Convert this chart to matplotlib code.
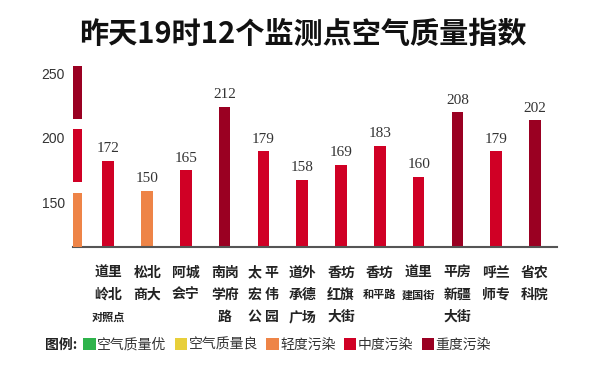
import matplotlib
matplotlib.use('Agg')
from matplotlib import pyplot
from matplotlib.patches import Patch

pyplot.rcParams['font.family'] = ['Noto Sans CJK SC', 'DejaVu Sans']

# 监测点（每个标签按行拆开）
sites = [
    ['道里', '岭北', '对照点'],
    ['松北', '商大'],
    ['阿城', '会宁'],
    ['南岗', '学府', '路'],
    ['太 平', '宏 伟', '公 园'],
    ['道外', '承德', '广场'],
    ['香坊', '红旗', '大街'],
    ['香坊', '和平路'],
    ['道里', '建国街'],
    ['平房', '新疆', '大街'],
    ['呼兰', '师专'],
    ['省农', '科院'],
]
aqi = [172, 150, 165, 212, 179, 158, 169, 183, 160, 208, 179, 202]
level = ['mid', 'light', 'mid', 'heavy', 'mid', 'mid', 'mid', 'mid', 'mid',
         'heavy', 'mid', 'heavy']

# 左侧色阶
scale_levels = ['light', 'mid', 'heavy']
scale_low = [115, 166, 215]
scale_high = [157, 207, 256]
scale_ticks = [150, 200, 250]

colors = {
    'good': '#2EB34B',
    'fair': '#E8CF3A',
    'light': '#EE8447',
    'mid': '#D00025',
    'heavy': '#9A0022',
}
legend_keys = ['good', 'fair', 'light', 'mid', 'heavy']
legend_names = ['空气质量优', '空气质量良', '轻度污染', '中度污染', '重度污染']

fig = pyplot.figure(figsize=(6.0, 3.74), dpi=100)
ax = fig.add_axes([73 / 600, 127.3 / 374, 483.7 / 600, 186.7 / 374])

x = list(range(len(aqi)))
ax.bar(x, aqi, width=0.3, bottom=0, color=[colors[k] for k in level],
       zorder=2)
ax.set_ylim(108.4, 246.6)
ax.set_xlim(-0.91, 11.56)

for i, v in enumerate(aqi):
    ax.annotate(str(v), xy=(i, v), xytext=(0, 4), textcoords='offset points',
                ha='center', va='bottom', fontsize=11, color='#333333',
                family='Liberation Serif')

# 下方站点名称，三个字的行用小字号
for i, lines in enumerate(sites):
    for j, line in enumerate(lines):
        fs = 8 if len(line.replace(' ', '')) == 3 else 10
        ax.annotate(line, xy=(i, 0), xycoords=ax.get_xaxis_transform(),
                    xytext=(0, -18.7 - 16 * j), textcoords='offset points',
                    ha='center', va='center', fontsize=fs,
                    fontweight='bold', color='#222222')

for side in ['top', 'right', 'left']:
    ax.spines[side].set_visible(False)
ax.spines['bottom'].set_color('#555555')
ax.spines['bottom'].set_linewidth(1.5)
ax.set_xticks([])
ax.set_yticks([])
ax.patch.set_alpha(0)

# 色阶刻度
ax2 = ax.twinx()
ax2.set_ylim(115.1, 260.9)
ax2.bar([-0.79] * 3,
        [h - l for l, h in zip(scale_low, scale_high)],
        bottom=scale_low, width=0.22,
        color=[colors[k] for k in scale_levels])
ax2.yaxis.tick_left()
ax2.set_yticks(scale_ticks)
ax2.set_yticklabels([str(t) for t in scale_ticks], family='Liberation Sans',
                    fontsize=10, color='#333333')
ax2.tick_params(axis='y', length=0, pad=6)
for side in ['top', 'right', 'left', 'bottom']:
    ax2.spines[side].set_visible(False)

fig.text(0.505, 1 - 34 / 374, '昨天19时12个监测点空气质量指数',
         ha='center', va='center', fontsize=21, fontweight='bold',
         color='#111111')

fig.text(45 / 600, 1 - 345 / 374, '图例:', ha='left', va='center',
         fontsize=10, fontweight='bold', color='#222222')
handles = [Patch(facecolor=colors[k], edgecolor='none') for k in legend_keys]
fig.legend(handles, legend_names, loc='center left',
           bbox_to_anchor=(83 / 600, 1 - 345 / 374), ncol=5, frameon=False,
           fontsize=10, handlelength=0.9, handleheight=0.9,
           handletextpad=0.1, columnspacing=0.6, borderpad=0,
           borderaxespad=0, labelcolor='#333333')

fig.savefig('out.png', dpi=100)
